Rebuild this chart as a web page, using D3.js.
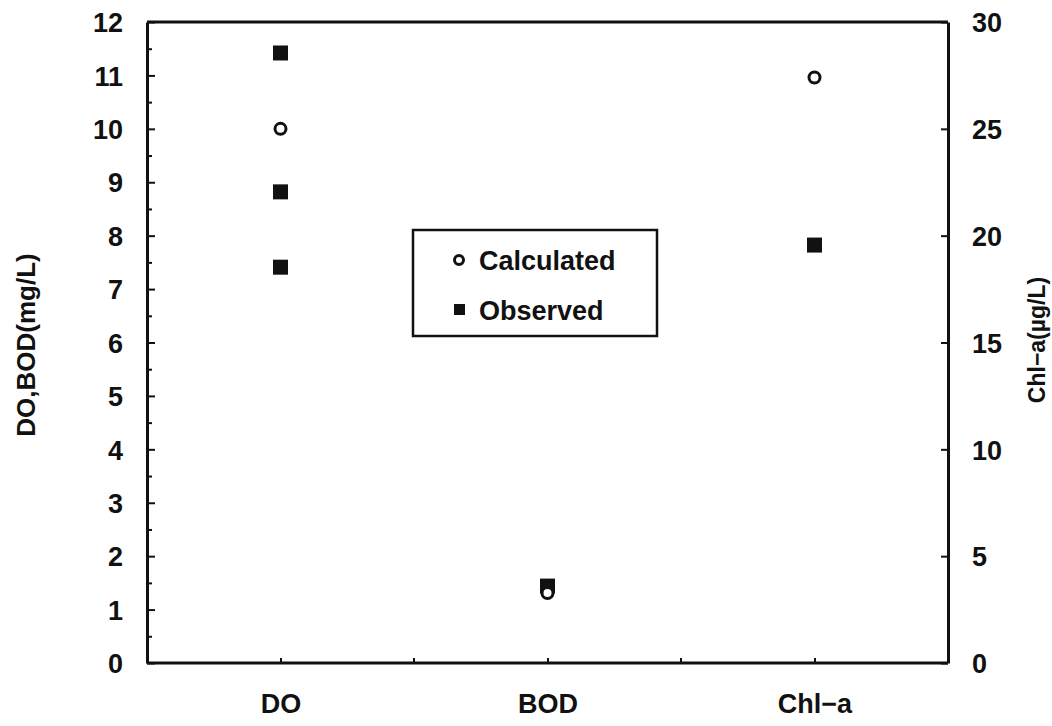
<!DOCTYPE html>
<html>
<head>
<meta charset="utf-8">
<script src="https://cdn.jsdelivr.net/npm/d3@7"></script>
<style>
  body { margin: 0; background: #fff; }
  svg text { font-family: "Liberation Sans", Arial, sans-serif; font-weight: bold; fill: #111; }
  .axis path, .axis line { stroke: #111; }
</style>
</head>
<body>
<div id="chart"></div>
<script>
// categories on the x axis
const categories = ["DO", "BOD", "Chl\u2212a"];

// calculated values (Chl-a is read on the right axis)
const calcCategories = ["DO", "BOD", "Chl\u2212a"];
const calcValues = [10.0, 1.31, 27.4];

// observed values
const obsCategories = ["DO", "DO", "DO", "BOD", "Chl\u2212a"];
const obsValues = [11.42, 8.82, 7.41, 1.44, 19.56];

const leftTicks = [0, 1, 2, 3, 4, 5, 6, 7, 8, 9, 10, 11, 12];
const rightTicks = [0, 5, 10, 15, 20, 25, 30];

const rightAxisCategory = "Chl\u2212a";

const width = 1052, height = 726;
const plotLeft = 147, plotRight = 948, plotTop = 22, plotBottom = 663;

const svg = d3.select("#chart")
              .append("svg")
              .attr("width", width)
              .attr("height", height);

const x = d3.scalePoint()
            .domain(categories)
            .range([plotLeft, plotRight])
            .padding(0.5);

const yLeft = d3.scaleLinear()
                .domain([0, 12])
                .range([plotBottom, plotTop]);

const yRight = d3.scaleLinear()
                 .domain([0, 30])
                 .range([plotBottom, plotTop]);

const yFor = (cat, v) => cat === rightAxisCategory ? yRight(v) : yLeft(v);

// top frame line
svg.append("line")
   .attr("x1", plotLeft).attr("x2", plotRight)
   .attr("y1", plotTop).attr("y2", plotTop)
   .attr("stroke", "#111")
   .attr("stroke-width", 3);

// minor ticks on the left axis (every 0.5)
svg.append("g")
   .attr("class", "axis")
   .attr("transform", `translate(${plotLeft},0)`)
   .call(d3.axisLeft(yLeft).tickValues(d3.range(0.5, 12, 1)).tickSize(-5).tickFormat(""))
   .call(g => g.select(".domain").remove())
   .selectAll("line").attr("stroke-width", 2);

// left axis
svg.append("g")
   .attr("class", "axis")
   .attr("transform", `translate(${plotLeft},0)`)
   .call(d3.axisLeft(yLeft).tickValues(leftTicks).tickSize(-8).tickPadding(24).tickSizeOuter(0))
   .call(g => g.select(".domain").attr("stroke-width", 3))
   .call(g => g.selectAll("line").attr("stroke-width", 2))
   .call(g => g.selectAll("text").style("font-size", "27px").attr("dy", "0.36em"));

// right axis
svg.append("g")
   .attr("class", "axis")
   .attr("transform", `translate(${plotRight},0)`)
   .call(d3.axisRight(yRight).tickValues(rightTicks).tickSize(-7).tickPadding(24).tickSizeOuter(0))
   .call(g => g.select(".domain").attr("stroke-width", 3))
   .call(g => g.selectAll("line").attr("stroke-width", 2))
   .call(g => g.selectAll("text").style("font-size", "27px").attr("dy", "0.36em"));

// category ticks and half-category ticks on the bottom axis
const step = x.step();
svg.append("g")
   .attr("class", "axis")
   .attr("transform", `translate(0,${plotBottom})`)
   .call(d3.axisBottom(x).tickSize(-5).tickFormat(""))
   .call(g => g.select(".domain").remove())
   .call(g => g.selectAll("line").attr("stroke-width", 2));

svg.append("g")
   .selectAll("line")
   .data(categories.slice(1))
   .enter()
   .append("line")
   .attr("x1", d => x(d) - step / 2)
   .attr("x2", d => x(d) - step / 2)
   .attr("y1", plotBottom)
   .attr("y2", plotBottom - 5)
   .attr("stroke", "#111")
   .attr("stroke-width", 2);

// bottom axis
svg.append("g")
   .attr("class", "axis")
   .attr("transform", `translate(0,${plotBottom})`)
   .call(d3.axisBottom(x).tickSize(0).tickPadding(31).tickSizeOuter(0))
   .call(g => g.select(".domain").attr("stroke-width", 3).attr("d", `M${plotLeft},0H${plotRight}`))
   .call(g => g.selectAll("text").style("font-size", "27px"));

// axis titles
svg.append("text")
   .attr("transform", "translate(35,345) rotate(-90)")
   .attr("text-anchor", "middle")
   .style("font-size", "26px")
   .text("DO,BOD(mg/L)");

svg.append("text")
   .attr("transform", "translate(1045,340) rotate(-90)")
   .attr("text-anchor", "middle")
   .style("font-size", "23px")
   .text("Chl\u2212a(\u00b5g/L)");

// observed squares
const sq = 15;
svg.append("g")
   .selectAll("rect")
   .data(obsValues)
   .enter()
   .append("rect")
   .attr("x", (d, i) => x(obsCategories[i]) - sq / 2)
   .attr("y", (d, i) => yFor(obsCategories[i], d) - sq / 2)
   .attr("width", sq)
   .attr("height", sq)
   .attr("fill", "#111");

// calculated circles
svg.append("g")
   .selectAll("circle")
   .data(calcValues)
   .enter()
   .append("circle")
   .attr("cx", (d, i) => x(calcCategories[i]))
   .attr("cy", (d, i) => yFor(calcCategories[i], d))
   .attr("r", 5.5)
   .attr("fill", "#fff")
   .attr("stroke", "#111")
   .attr("stroke-width", 3);

// legend
const legend = svg.append("g").attr("transform", "translate(413,230)");
legend.append("rect")
      .attr("width", 244)
      .attr("height", 106)
      .attr("fill", "#fff")
      .attr("stroke", "#111")
      .attr("stroke-width", 2.5);
legend.append("circle")
      .attr("cx", 46).attr("cy", 30).attr("r", 4.5)
      .attr("fill", "#fff").attr("stroke", "#111").attr("stroke-width", 3);
legend.append("rect")
      .attr("x", 41).attr("y", 74).attr("width", 11).attr("height", 11)
      .attr("fill", "#111");
legend.append("text")
      .attr("x", 66).attr("y", 30).attr("dy", "0.36em")
      .style("font-size", "27px")
      .text("Calculated");
legend.append("text")
      .attr("x", 66).attr("y", 80).attr("dy", "0.36em")
      .style("font-size", "27px")
      .text("Observed");
</script>
</body>
</html>
